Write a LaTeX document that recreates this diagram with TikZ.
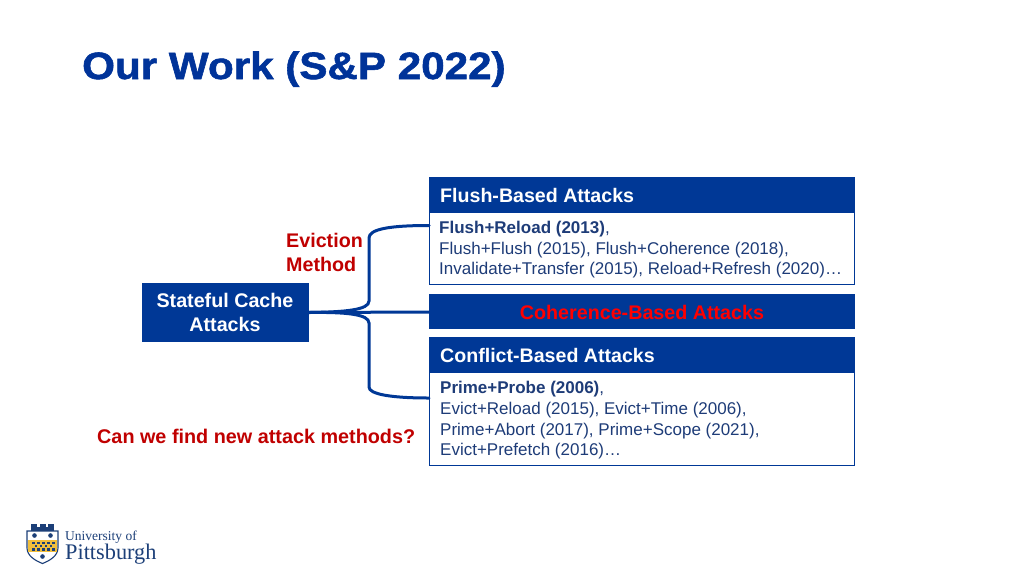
\documentclass[tikz,border=0pt]{standalone}
\usepackage{fontspec}
\setmainfont{Liberation Sans}
\newfontfamily\titlefont[FakeStretch=1.11,FakeBold=1.5]{Liberation Sans Bold}
\newfontfamily\logofont{Liberation Serif}
\definecolor{pittblue}{RGB}{0,56,150}
\definecolor{pitttitle}{RGB}{0,51,153}
\definecolor{evred}{RGB}{192,0,0}
\definecolor{bodytxt}{RGB}{30,60,120}
\definecolor{pittgold}{RGB}{240,190,60}
\definecolor{logoblue}{RGB}{28,63,120}
\tikzset{
  x=1pt,y=-1pt,
  head/.style={fill=pittblue,draw=none,minimum width=426pt,inner sep=0pt,outer sep=0pt,anchor=north west,text=white},
  headtext/.style={anchor=west,inner sep=0pt,text=white,font=\fontsize{19.6}{19.6}\selectfont\bfseries},
  bodybox/.style={draw=pittblue,line width=0.9pt,fill=white,minimum width=425pt,inner sep=0pt,outer sep=0pt,anchor=north west},
  bodytext/.style={anchor=west,inner sep=0pt,text=bodytxt,font=\fontsize{17}{17}\selectfont},
  link/.style={draw=pittblue,line width=3pt,line cap=round},
  redlabel/.style={text=evred,font=\fontsize{19.7}{23.5}\selectfont\bfseries,inner sep=0pt}
}
\begin{document}
\begin{tikzpicture}
\useasboundingbox (0,0) rectangle (1024,576);
\node[anchor=base west,inner sep=0pt,text=pitttitle,font=\titlefont\fontsize{38}{38}\selectfont] (title) at (82,79) {Our Work (S\&P 2022)};

% boxes
\node[bodybox,minimum height=72pt] (flushbody) at (429.5,212.5) {};
\node[head,minimum height=36pt] (flushhead) at (429,177) {};
\node[headtext] (flushtitle) at (440,195) {Flush-Based Attacks};
\node[bodytext] (f1) at (439,229.5) {\textbf{Flush+Reload (2013)},};
\node[bodytext] (f2) at (439,250) {Flush+Flush (2015), Flush+Coherence (2018),};
\node[bodytext] (f3) at (439,270.5) {Invalidate+Transfer (2015), Reload+Refresh (2020)…};

\node[head,minimum height=35pt] (coh) at (429,294) {};
\node[text=red,font=\fontsize{19.7}{19.7}\selectfont\bfseries,inner sep=0pt] (cohtitle) at (642,312) {Coherence-Based Attacks};

\node[bodybox,minimum height=93pt] (confbody) at (429.5,372.5) {};
\node[head,minimum height=36pt] (confhead) at (429,337) {};
\node[headtext] (conftitle) at (440,355) {Conflict-Based Attacks};
\node[bodytext] (c1) at (440,389.5) {\textbf{Prime+Probe (2006)},};
\node[bodytext] (c2) at (440,410) {Evict+Reload (2015), Evict+Time (2006),};
\node[bodytext] (c3) at (440,431) {Prime+Abort (2017), Prime+Scope (2021),};
\node[bodytext] (c4) at (440,451.5) {Evict+Prefetch (2016)…};

% source
\node[fill=pittblue,minimum width=167pt,minimum height=59pt,inner sep=0pt,outer sep=0pt,text=white,align=center,font=\fontsize{19.7}{24}\selectfont\bfseries] (src) at (225,312.5) {Stateful Cache\\Attacks};

% labels
\node[redlabel,anchor=west,align=left] (evict) at (286,252.5) {Eviction\\Method};
\node[anchor=west,inner sep=0pt,text=evred,font=\fontsize{19.8}{22}\selectfont\bfseries] (q) at (97,436.5) {Can we find new attack methods?};

% connectors
\coordinate (a) at (src.east);
\coordinate (t) at (429,225.5);
\coordinate (m) at (429,312);
\coordinate (b) at (429,398);
\draw[link] (a) -- (m);
\draw[link] (a) .. controls (345,312) and (369,310) .. (369,301) -- (369,238) .. controls (369,229) and (390,225.5) .. (t);
\draw[link] (a) .. controls (345,312) and (369,314) .. (369,323) -- (369,387) .. controls (369,394) and (390,398) .. (b);

% logo: shield
\begin{scope}
\fill[logoblue] (31,527) rectangle (54,533);
\foreach \xx in {31,39.5,48}{\fill[logoblue] (\xx,523.5) rectangle ++(6,5);}
\draw[logoblue,line width=1.1pt,fill=white] (27,531) -- (58,531) -- (58,548) .. controls (58,556) and (49,561) .. (42.5,563.5) .. controls (36,561) and (27,556) .. (27,548) -- cycle;
\fill[pittgold] (27.6,540) rectangle (57.4,552);
\foreach \xx/\yy in {32/541.5,37/541.5,42/541.5,47/541.5,52/541.5,34.5/544.7,39.5/544.7,44.5/544.7,49.5/544.7,32/547.9,37/547.9,42/547.9,47/547.9,52/547.9}{\fill[logoblue] (\xx,\yy) rectangle ++(2.6,2.6);}
\fill[logoblue] (34.5,535.5) circle (2.3);
\fill[logoblue] (50.5,535.5) circle (2.3);
\fill[logoblue] (42.5,556.5) circle (2.3);
\end{scope}
\node[anchor=base west,inner sep=0pt,text=logoblue,font=\logofont\fontsize{13.5}{13.5}\selectfont] (uni) at (65,540) {University of};
\node[anchor=base west,inner sep=0pt,text=logoblue,font=\logofont\fontsize{22.3}{22.3}\selectfont] (pitt) at (65,559) {Pittsburgh};
\end{tikzpicture}
\end{document}
